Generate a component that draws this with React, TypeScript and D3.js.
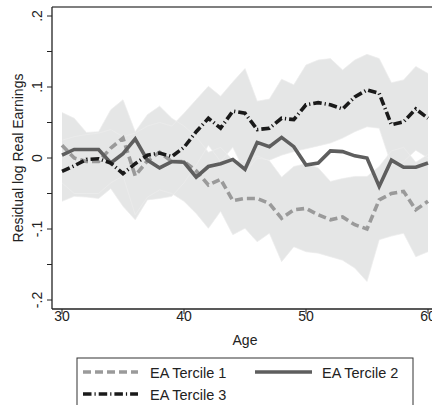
import React from "react";
import * as d3 from "d3";

const ages = d3.range(30, 61);

const tercile1 = [0.018, 0.0, -0.005, -0.005, 0.014, 0.028, -0.025, -0.004, 0.008, -0.005, -0.005, -0.018, -0.038, -0.03, -0.06, -0.057, -0.057, -0.064, -0.085, -0.073, -0.071, -0.08, -0.087, -0.083, -0.094, -0.1, -0.059, -0.05, -0.047, -0.073, -0.061];
const tercile2 = [0.004, 0.012, 0.012, 0.012, -0.007, 0.006, 0.027, -0.003, -0.014, -0.005, -0.006, -0.027, -0.012, -0.008, -0.002, -0.016, 0.022, 0.016, 0.029, 0.016, -0.01, -0.007, 0.01, 0.009, 0.003, 0.0, -0.04, -0.003, -0.013, -0.013, -0.007];
const tercile3 = [-0.019, -0.011, -0.002, -0.001, -0.007, -0.022, -0.008, 0.004, 0.007, 0.002, 0.015, 0.037, 0.056, 0.042, 0.066, 0.063, 0.04, 0.042, 0.056, 0.054, 0.075, 0.078, 0.075, 0.069, 0.086, 0.096, 0.091, 0.047, 0.051, 0.069, 0.056];

const upper1 = [0.064, 0.056, 0.036, 0.037, 0.068, 0.082, 0.037, 0.061, 0.073, 0.056, 0.045, 0.03, 0.008, 0.015, -0.003, -0.005, 0.003, -0.004, -0.027, -0.012, -0.008, -0.014, -0.033, -0.029, -0.026, -0.026, -0.012, 0.01, 0.015, -0.006, 0.005];
const lower1 = [-0.035, -0.05, -0.05, -0.05, -0.035, -0.025, -0.08, -0.055, -0.045, -0.05, -0.061, -0.078, -0.099, -0.075, -0.108, -0.099, -0.118, -0.106, -0.146, -0.125, -0.132, -0.134, -0.139, -0.144, -0.155, -0.174, -0.115, -0.11, -0.106, -0.139, -0.132];
const upper3 = [0.025, 0.03, 0.033, 0.035, 0.04, 0.03, 0.035, 0.045, 0.05, 0.045, 0.063, 0.082, 0.101, 0.087, 0.107, 0.126, 0.08, 0.083, 0.111, 0.103, 0.131, 0.138, 0.14, 0.124, 0.138, 0.146, 0.14, 0.106, 0.11, 0.129, 0.119];
const lower3 = [-0.061, -0.054, -0.055, -0.057, -0.043, -0.068, -0.087, -0.059, -0.057, -0.054, -0.035, -0.01, 0.018, -0.005, 0.015, -0.02, 0.0, -0.003, 0.004, 0.009, 0.013, 0.017, 0.021, 0.028, 0.037, 0.044, 0.042, -0.01, -0.005, 0.011, 0.0];

const xTicks = [30, 40, 50, 60];
const yMajor = [-0.2, -0.1, 0, 0.1, 0.2];
const yMajorLabels = ["-.2", "-.1", "0", ".1", ".2"];
const yMinor = [-0.15, -0.05, 0.05, 0.15];

const legendLabels = ["EA Tercile 1", "EA Tercile 2", "EA Tercile 3"];

const W = 432;
const H = 405;
const FONT = "'Liberation Sans', Arial, Helvetica, sans-serif";

export default function App() {
  const x = d3.scaleLinear().domain([30, 60]).range([62, 428]);
  const y = d3.scaleLinear().domain([-0.2, 0.2]).range([300, 16]);

  const band = (up: number[], lo: number[]) =>
    d3
      .area<number>()
      .x((_, i) => x(ages[i]))
      .y0((_, i) => y(lo[i]))
      .y1((_, i) => y(up[i]))(ages) || "";

  const edge = (vals: number[]) =>
    d3
      .line<number>()
      .x((_, i) => x(ages[i]))
      .y((_, i) => y(vals[i]))(ages) || "";

  const line = (vals: number[]) =>
    d3
      .line<number>()
      .x((_, i) => x(ages[i]))
      .y((_, i) => y(vals[i]))(ages) || "";

  const plotLeft = 52;
  const plotTop = 7;
  const plotBottom = 309;
  const bandFill = "#e5e6e6";

  const s1 = { stroke: "#9a9a9a", dash: "8,4" };
  const s2 = { stroke: "#5e5e5e", dash: "none" };
  const s3 = { stroke: "#1a1a1a", dash: "8.5,3,1.2,3" };

  return (
    <svg
      width={W}
      height={H}
      style={{ position: "absolute", left: 0, top: 0, background: "#fff" }}
      fontFamily={FONT}
    >
      <rect x={0} y={0} width={W} height={H} fill="#fff" />
      {/* bands */}
      <path d={band(upper1, lower1)} fill={bandFill} />
      <path d={band(upper3, lower3)} fill={bandFill} />
      {[upper1, lower1, upper3, lower3].map((v, i) => (
        <path key={i} d={edge(v)} fill="none" stroke="#ececec" strokeWidth={0.7} />
      ))}
      {/* lines */}
      <path d={line(tercile1)} fill="none" stroke={s1.stroke} strokeWidth={3.6} strokeDasharray={s1.dash} strokeLinejoin="miter" />
      <path d={line(tercile2)} fill="none" stroke={s2.stroke} strokeWidth={3.6} strokeLinejoin="miter" />
      <path d={line(tercile3)} fill="none" stroke={s3.stroke} strokeWidth={3.6} strokeDasharray={s3.dash} strokeLinejoin="miter" />

      {/* frame */}
      <line x1={plotLeft} x2={W} y1={plotTop} y2={plotTop} stroke="#555" strokeWidth={1.3} />
      <line x1={plotLeft} x2={plotLeft} y1={plotTop} y2={plotBottom} stroke="#222" strokeWidth={1.3} />
      <line x1={plotLeft} x2={W} y1={plotBottom} y2={plotBottom} stroke="#222" strokeWidth={1.3} />

      {/* y ticks */}
      {yMajor.map((v, i) => (
        <g key={"ym" + i}>
          <line x1={plotLeft - 5} x2={plotLeft} y1={y(v)} y2={y(v)} stroke="#222" strokeWidth={1} />
          <text
            transform={`translate(42,${y(v)}) rotate(-90)`}
            textAnchor="middle"
            fontSize={14}
            fill="#222"
          >
            {yMajorLabels[i]}
          </text>
        </g>
      ))}
      {yMinor.map((v, i) => (
        <line key={"yn" + i} x1={plotLeft - 5} x2={plotLeft} y1={y(v)} y2={y(v)} stroke="#222" strokeWidth={1} />
      ))}
      <text transform={`translate(23,${y(0)}) rotate(-90)`} textAnchor="middle" fontSize={14} fill="#222">
        Residual log Real Earnings
      </text>

      {/* x ticks */}
      {xTicks.map((v) => (
        <g key={"x" + v}>
          <line x1={x(v)} x2={x(v)} y1={plotBottom} y2={plotBottom + 5} stroke="#222" strokeWidth={1} />
          <text x={x(v)} y={321} textAnchor="middle" fontSize={14} fill="#222">
            {v}
          </text>
        </g>
      ))}
      <text x={245} y={345} textAnchor="middle" fontSize={14} fill="#222">
        Age
      </text>

      {/* legend */}
      <rect x={77} y={358} width={336} height={60} fill="#fff" stroke="#333" strokeWidth={1} />
      <line x1={83} x2={138} y1={372} y2={372} stroke={s1.stroke} strokeWidth={3.6} strokeDasharray={s1.dash} />
      <text x={150} y={377.5} fontSize={14.5} fill="#222">{legendLabels[0]}</text>
      <line x1={255} x2={312} y1={372} y2={372} stroke={s2.stroke} strokeWidth={3.6} />
      <text x={322} y={377.5} fontSize={14.5} fill="#222">{legendLabels[1]}</text>
      <line x1={83} x2={138} y1={394} y2={394} stroke={s3.stroke} strokeWidth={3.6} strokeDasharray={s3.dash} />
      <text x={150} y={399.5} fontSize={14.5} fill="#222">{legendLabels[2]}</text>
    </svg>
  );
}
